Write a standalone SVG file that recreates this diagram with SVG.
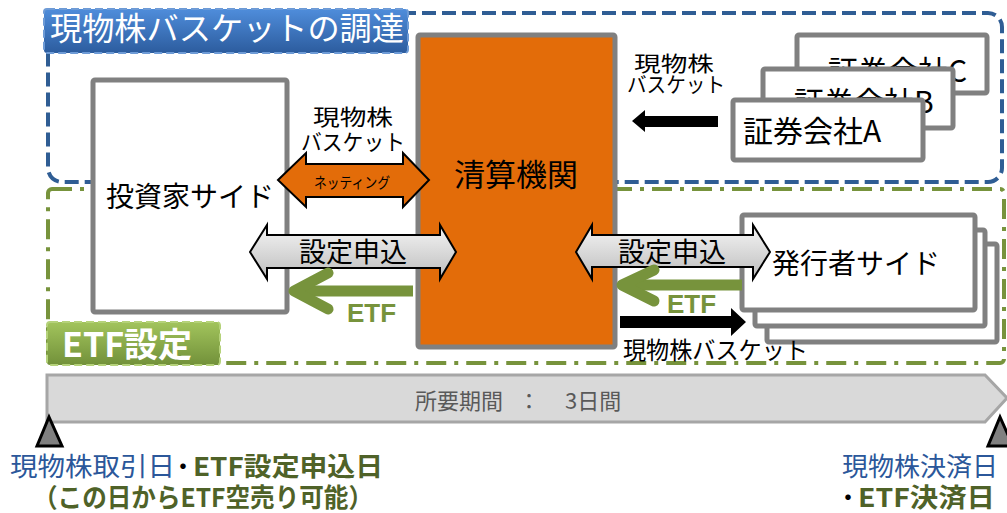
<svg xmlns="http://www.w3.org/2000/svg" width="1007" height="513" viewBox="0 0 1007 513">
<defs>
<linearGradient id="gBlue" x1="0" y1="0" x2="0" y2="1"><stop offset="0" stop-color="#4F8DDB"/><stop offset="1" stop-color="#2C5C9E"/></linearGradient>
<linearGradient id="gGreen" x1="0" y1="0" x2="0" y2="1"><stop offset="0" stop-color="#A2C45C"/><stop offset="1" stop-color="#72913A"/></linearGradient>
<linearGradient id="gGray" x1="0" y1="0" x2="0" y2="1"><stop offset="0" stop-color="#F5F5F5"/><stop offset="1" stop-color="#BDBDBD"/></linearGradient>
<style>
text{font-family:"Noto Sans CJK JP","Noto Sans",sans-serif;}
.box{fill:#fff;stroke:#808080;stroke-width:5;}
.lbl{font-size:28px;fill:#000;}
.sm{font-size:24px;fill:#000;}
.xs{font-size:22px;fill:#000;}
.etf{font-family:"Liberation Sans","Noto Sans CJK JP",sans-serif;font-weight:bold;font-size:26px;fill:#77933C;}
.dbl{fill:url(#gGray);stroke:#000;stroke-width:2;stroke-linejoin:miter;}
.garrow{fill:none;stroke:#77933C;stroke-width:11;}
.blue{fill:#2B579A;}
.grn{fill:#4F6228;font-weight:bold;}
</style>
</defs>
<rect width="1007" height="513" fill="#fff"/>
<g id="group-procure">
<rect x="48" y="13" width="954" height="169" rx="14" fill="none" stroke="#2F5D94" stroke-width="4" stroke-dasharray="14 6"/>
</g>
<g id="group-etf">
<rect x="48" y="189" width="956" height="174" rx="4" fill="none" stroke="#77933C" stroke-width="4" stroke-dasharray="20 8 4 8"/>
</g>
<g id="title-procure">
<rect x="44" y="9" width="364" height="44" rx="3" fill="url(#gBlue)" stroke="#6E9BD6" stroke-width="2" stroke-dasharray="8 4"/>
<text x="50" y="40" font-size="32" fill="#fff" textLength="354" lengthAdjust="spacingAndGlyphs">現物株バスケットの調達</text>
</g>
<g id="title-etf">
<rect x="47" y="322" width="173" height="43" rx="3" fill="url(#gGreen)" stroke="#B5D27A" stroke-width="2" stroke-dasharray="8 4"/>
<text x="62" y="357" font-size="34" font-weight="bold" fill="#fff">ETF設定</text>
</g>
<g id="investor">
<rect class="box" x="93" y="80" width="194" height="232" rx="2"/>
<text class="lbl" x="190" y="207" text-anchor="middle">投資家サイド</text>
</g>
<g id="clearing">
<rect x="418" y="35" width="197" height="312" rx="2" fill="#E36C09" stroke="#808080" stroke-width="5"/>
<text x="516" y="186" font-size="31" text-anchor="middle" fill="#000">清算機関</text>
</g>
<g id="broker-c">
<rect class="box" x="797" y="35" width="190" height="58" rx="2"/>
<text x="828" y="82" font-size="30" fill="#000">証券会社C</text>
</g>
<g id="broker-b">
<rect class="box" x="763" y="69" width="190" height="59" rx="2"/>
<text x="794" y="113" font-size="30" fill="#000">証券会社B</text>
</g>
<g id="broker-a">
<rect class="box" x="733" y="100" width="190" height="60" rx="2"/>
<text x="743" y="142" font-size="30" fill="#000">証券会社A</text>
</g>
<g id="issuer">
<rect class="box" x="767" y="244" width="230" height="98" rx="2"/>
<rect class="box" x="755" y="230" width="230" height="96" rx="2"/>
<rect class="box" x="742" y="215" width="233" height="95" rx="2"/>
<text class="lbl" x="772" y="274">発行者サイド</text>
</g>
<g id="connectors">
<polygon points="278,180 306,153 306,164 403,164 403,153 429,180 403,207 403,197 306,197 306,207" fill="#E36C09" stroke="#000" stroke-width="2"/>
<text x="352" y="188" font-size="15" text-anchor="middle" fill="#000" textLength="76" lengthAdjust="spacingAndGlyphs">ネッティング</text>
<text class="xs" text-anchor="middle"><tspan x="353" y="125" textLength="80" lengthAdjust="spacingAndGlyphs">現物株</tspan><tspan x="353" y="150" textLength="104" lengthAdjust="spacingAndGlyphs">バスケット</tspan></text>
<polygon class="dbl" points="250,252 267,225 267,235 440,235 440,225 456,252 440,279 440,268 267,268 267,279"/>
<text x="353" y="262" font-size="27" text-anchor="middle" fill="#000">設定申込</text>
<polygon class="dbl" points="576,252 592,225 592,235 753,235 753,225 770,252 753,279 753,267 592,267 592,279"/>
<text x="672" y="262" font-size="27" text-anchor="middle" fill="#000">設定申込</text>
<line class="garrow" x1="413" y1="291" x2="296" y2="291"/>
<polyline class="garrow" points="328,273 294,291 328,309" stroke-linecap="round" stroke-linejoin="round"/>
<text class="etf" x="347" y="322">ETF</text>
<line class="garrow" x1="742" y1="285" x2="624" y2="285"/>
<polyline class="garrow" points="654,270 622,285 654,301" stroke-linecap="round" stroke-linejoin="round"/>
<text class="etf" x="667" y="313">ETF</text>
<polygon points="620,316 731,316 731,308 746,322 731,336 731,328 620,328" fill="#000"/>
<text class="sm" x="623" y="359" textLength="185" lengthAdjust="spacingAndGlyphs">現物株バスケット</text>
<polygon points="632,121 645,110 645,116 718,116 718,127 645,127 645,132" fill="#000"/>
<text font-size="21" text-anchor="middle" fill="#000"><tspan x="674" y="71" textLength="80" lengthAdjust="spacingAndGlyphs">現物株</tspan><tspan x="676" y="92" textLength="98" lengthAdjust="spacingAndGlyphs">バスケット</tspan></text>
</g>
<g id="timeline">
<polygon points="47,375 985,375 1007,398 985,422 47,422" fill="#D9D9D9" stroke="#A6A6A6" stroke-width="3"/>
<text y="409" font-size="22" fill="#595959"><tspan x="415">所要期間</tspan><tspan x="518">：</tspan><tspan x="565">3日間</tspan></text>
<polygon points="49,417 37,446 62,446" fill="#808080" stroke="#000" stroke-width="3" stroke-linejoin="miter"/>
<polygon points="1000,417 988,446 1013,446" fill="#808080" stroke="#000" stroke-width="3" stroke-linejoin="miter"/>
</g>
<g id="start-label">
<text font-size="26"><tspan class="blue" x="10" y="476" textLength="165" lengthAdjust="spacingAndGlyphs">現物株取引日</tspan><tspan fill="#000" x="170" y="476">・</tspan><tspan class="grn" x="193" y="476" textLength="190" lengthAdjust="spacingAndGlyphs">ETF設定申込日</tspan><tspan class="grn" x="33" y="507" textLength="340" lengthAdjust="spacingAndGlyphs">（この日からETF空売り可能）</tspan></text>
</g>
<g id="end-label">
<text font-size="26"><tspan class="blue" x="842" y="476" textLength="156" lengthAdjust="spacingAndGlyphs">現物株決済日</tspan><tspan fill="#000" x="835" y="507">・</tspan><tspan class="grn" x="858" y="507" textLength="137" lengthAdjust="spacingAndGlyphs">ETF決済日</tspan></text>
</g>
</svg>
